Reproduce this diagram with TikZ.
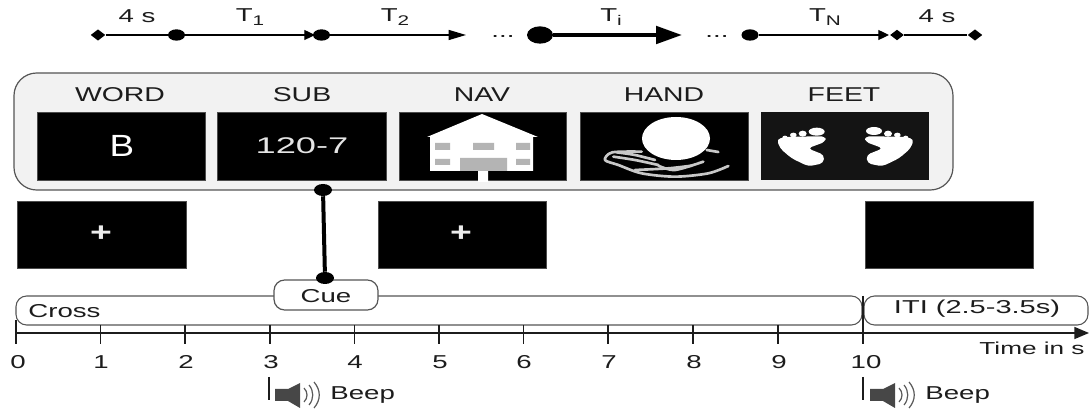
\documentclass[tikz,border=0pt]{standalone}
\usepackage{fontspec}
\setmainfont{Liberation Sans}
\usetikzlibrary{arrows.meta,shapes.geometric}
\definecolor{ink}{HTML}{1C1C1C}
\definecolor{panelfill}{HTML}{F2F2F2}
\definecolor{edgegray}{HTML}{555555}
\definecolor{wingray}{HTML}{B4B4B4}
\definecolor{handgray}{HTML}{C8C8C8}
\newcommand\lsub[1]{\raisebox{-3.5pt}{\fontsize{10.5}{12}\selectfont #1}}
\newcommand\speaker[1]{%
  \begin{scope}[shift={(#1)}]
    \fill[black!72] (0,-6) -- (13,-6) -- (25,-12) -- (25,13) -- (13,6) -- (0,6) -- cycle;
    \draw[black!65,line width=0.9pt]
      (29,-7) .. controls (33,-3) and (33,3) .. (29,7)
      (34,-10) .. controls (39,-4) and (39,4) .. (34,10)
      (39,-13) .. controls (46,-5) and (46,5) .. (39,13);
  \end{scope}}
\tikzset{
  txt/.style={inner sep=0pt,text=ink,font=\fontsize{14}{16}\selectfont,xscale=1.48,transform shape},
  head/.style={inner sep=0pt,text=ink,font=\fontsize{15}{17}\selectfont,xscale=1.42,transform shape},
  bigblack/.style={fill=black,draw=black!70,line width=0.5pt},
  dotn/.style={circle,fill=black,inner sep=0pt,minimum size=#1,xscale=1.5},
  dmd/.style={diamond,fill=black,inner sep=0pt,minimum size=#1,xscale=1.3},
  tlshort/.style={draw=black,line width=0.9pt,-{Stealth[length=8pt,width=7.5pt,inset=0pt]}},
  tl/.style={draw=black,line width=0.9pt,-{Stealth[length=13pt,width=7.5pt,inset=0pt]}},
  tlplain/.style={draw=black,line width=0.9pt},
  roundbox/.style={draw=edgegray,line width=0.8pt,rounded corners=8pt},
  tick/.style={draw=ink,line width=0.9pt},
  handline/.style={draw=handgray,line width=2pt,line cap=round,line join=round},
  plusmark/.style={inner sep=0pt,text=black!8,font=\bfseries\fontsize{20}{22}\selectfont,xscale=1.4,transform shape},
}
\begin{document}
\begin{tikzpicture}[x=0.75pt,y=-0.75pt]
\useasboundingbox (0,0) rectangle (1089,409);

% top timeline
\node[dmd=8.5pt] (d1) at (98,35) {};
\node[dotn=8.5pt] (d2) at (176.5,35) {};
\coordinate (a1) at (315,35);
\node[dotn=8.5pt] (d3) at (321.5,35) {};
\coordinate (a2) at (466,35);
\node[dotn=13pt,xscale=1.0] (d4) at (540,35) {};
\coordinate (a3) at (682,35);
\node[dotn=8.5pt] (d5) at (750,35) {};
\coordinate (a4) at (889,35);
\node[dmd=8pt] (d6) at (897,35) {};
\node[dmd=8.5pt] (d7) at (975,35) {};
\draw[tlplain] (d1) -- (d2);
\draw[tlshort] (d2) -- (a1);
\draw[tl] (d3) -- (a2);
\draw[draw=black,line width=3pt,-{Stealth[length=19.5pt,width=13pt,inset=0pt]}] (d4) -- (a3);
\draw[tlshort] (d5) -- (a4);
\draw[tlplain] (d6) -- (d7);

\node[txt] (l4a) at (137,16) {4 s};
\node[txt] (lt1) at (250,17) {T\lsub{1}};
\node[txt] (lt2) at (395,17) {T\lsub{2}};
\node[txt] (lti) at (611,17) {T\lsub{i}};
\node[txt] (ltn) at (825,17) {T\lsub{N}};
\node[txt] (l4b) at (937,16) {4 s};
\node[txt,anchor=base] (dots1) at (503,38) {...};
\node[txt,anchor=base] (dots2) at (717,38) {...};

% panel
\draw[draw=edgegray,fill=panelfill,line width=0.9pt,rounded corners=17pt] (14,73) rectangle (953,190);
\node[head] (hw) at (120,95) {WORD};
\node[head] (hs) at (302,95) {SUB};
\node[head] (hn) at (482,95) {NAV};
\node[head] (hh) at (664,95) {HAND};
\node[head] (hf) at (844,95) {FEET};

\fill[bigblack] (37,112.5) rectangle (205,180);
\fill[bigblack] (217,112.5) rectangle (386,180);
\fill[bigblack] (399,112.5) rectangle (566,180);
\fill[bigblack] (580,112.5) rectangle (748,180);
\fill[black!92] (761,112) rectangle (929,180.5);

\node[inner sep=0pt,text=white,font=\fontsize{23}{25}\selectfont,xscale=1.2,transform shape] (tb) at (122,146) {B};
\node[inner sep=0pt,text=black!10,font=\fontsize{17}{19}\selectfont,xscale=1.6,transform shape] (tsub) at (302,146) {120-7};

% house
\fill[white] (482,114) -- (538,137) -- (533,137) -- (533,171) -- (488,171) -- (488,182) -- (478,182) -- (478,171) -- (430,171) -- (430,137) -- (427,137) -- cycle;
\fill[wingray] (435,143) rectangle (450,150) (473,143) rectangle (494,150) (516,143) rectangle (530,150)
  (435,159) rectangle (450,165) (516,159) rectangle (530,165) (460,158) rectangle (507,171);

% hand and ball
\fill[white] (676,138.5) ellipse (34 and 21.5);
\begin{scope}[shift={(575,105)},x=0.25pt,y=-0.25pt]
\draw[handline] plot[smooth] coordinates {(460,183) (400,205) (300,215) (200,205) (130,180) (90,165) (112,142) (200,140)};
\draw[handline] plot[smooth] coordinates {(115,155) (180,165) (250,180)};
\draw[handline] plot[smooth] coordinates {(125,142) (180,150) (240,165)};
\draw[handline] plot[smooth] coordinates {(250,182) (300,195) (385,170)};
\draw[handline] plot[smooth] coordinates {(180,195) (280,190) (350,182)};
\draw[handline] (395,135) -- (430,141);
% feet
\fill[white,rounded corners=3pt] (605,102) -- (640,95) -- (752,94) -- (752,110) -- (698,130) -- (748,150) -- (745,175) -- (700,184) -- (650,160) -- (615,130) -- cycle;
\fill[white] (725,80) ellipse (24 and 12) (683,86) ellipse (12 and 9) (655,90) ellipse (10 and 7) (630,98) ellipse (8 and 6);
\fill[white,rounded corners=3pt] (1017,102) -- (982,95) -- (870,94) -- (870,110) -- (924,130) -- (874,150) -- (877,175) -- (922,184) -- (972,160) -- (1007,130) -- cycle;
\fill[white] (897,78) ellipse (24 and 12) (939,86) ellipse (12 and 9) (967,90) ellipse (10 and 7) (992,98) ellipse (8 and 6);
\end{scope}

% second row
\fill[bigblack] (17,201.5) rectangle (186,268);
\fill[bigblack] (378,201.5) rectangle (546,268);
\fill[bigblack] (865,201.5) rectangle (1033,268);
\node[plusmark] (p1) at (101,234) {+};
\node[plusmark] (p2) at (461,234) {+};

% bars
\draw[roundbox] (16,296) rectangle (862,325);
\draw[roundbox] (864,296) rectangle (1088,325);
\node[txt,anchor=west] (tcross) at (28,311) {Cross};
\node[txt,xscale=1.05] (titi) at (977,309) {ITI (2.5-3.5s)};
\node[draw=edgegray,fill=white,line width=0.9pt,rounded corners=8pt,minimum width=78pt,minimum height=22.5pt,inner sep=0pt] (cuebox) at (326,295) {};
\node[txt] (tcue) at (326,296) {Cue};

% connector
\node[dotn=9pt] (c1) at (323,190) {};
\node[dotn=9pt] (c2) at (325,278) {};
\draw[line width=3pt,black] (c1) -- (c2);

% axis
\coordinate (ax0) at (16,333);
\coordinate (ax1) at (1089,333);
\draw[draw=ink,line width=1.1pt,-{Stealth[length=11pt,width=9pt,inset=0pt]}] (ax0) -- (ax1);
\foreach \n/\xp/\xl in {0/16/18,1/100.5/101,2/185/186,3/270/271,4/354.5/355,5/439/440,6/523.5/524,7/608/609,8/693/694,9/778/779,10/863/866}{
  \draw[tick] (\xp,325) -- (\xp,344);
  \node[txt] (n\n) at (\xl,362) {\n};
}
\draw[tick] (16,320) -- (16,325);
\draw[tick] (863,296) -- (863,325);
\node[txt,anchor=east,font=\fontsize{13}{15}\selectfont,xscale=1.02] (ttime) at (1085,348) {Time in s};

% beeps
\draw[tick] (269,377) -- (269,400);
\speaker{275,395}
\node[txt,anchor=west] (bp1) at (330,395) {Beep};
\draw[tick] (863,377) -- (863,400);
\speaker{870,395}
\node[txt,anchor=west] (bp2) at (925,395) {Beep};
\end{tikzpicture}
\end{document}
